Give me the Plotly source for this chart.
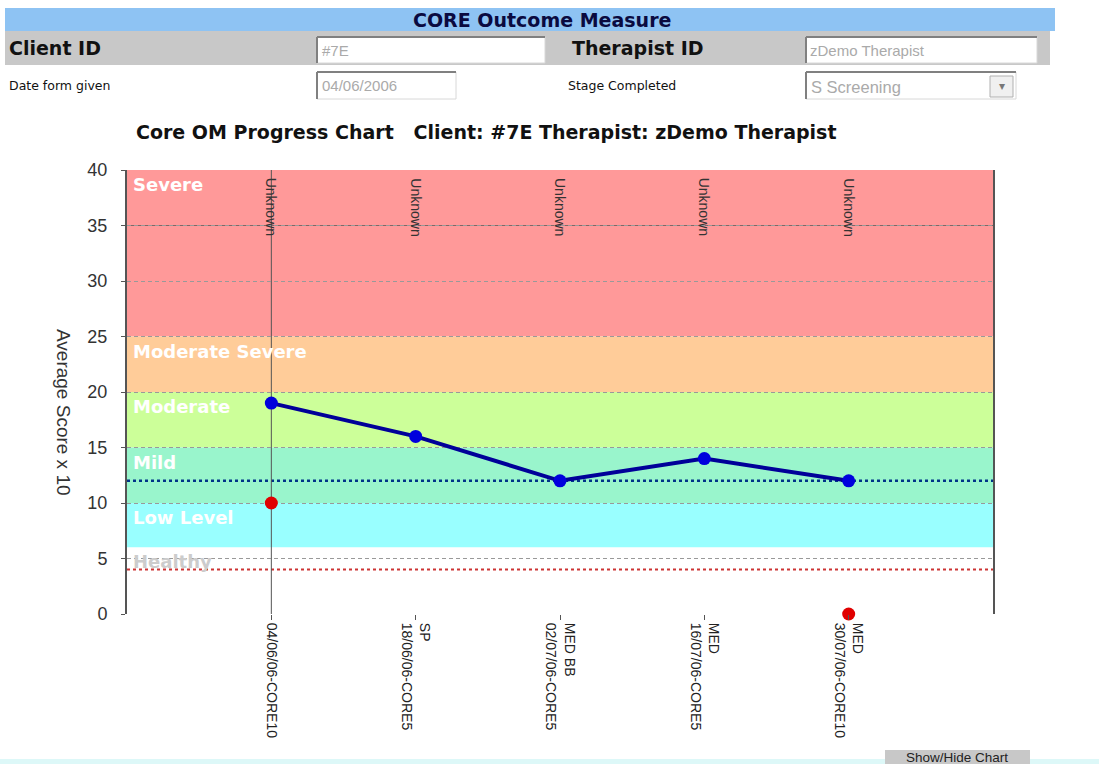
import plotly.graph_objects as go

# ---------------- data ----------------
dates = ["04/06/06-CORE10", "18/06/06-CORE5", "02/07/06-CORE5", "16/07/06-CORE5", "30/07/06-CORE10"]
stages = ["", "SP", "MED BB", "MED", "MED"]
session_notes = ["Unknown", "Unknown", "Unknown", "Unknown", "Unknown"]
scores = [19, 16, 12, 14, 12]
red_idx = [0, 4]
red_scores = [10, 0]
blue_ref = 12
red_ref = 4

band_names = ["Severe", "Moderate Severe", "Moderate", "Mild", "Low Level", "Healthy"]
band_low = [25, 20, 15, 10, 6, 0]
band_high = [40, 25, 20, 15, 10, 6]
band_colors = ["#FF9999", "#FFCC99", "#CCFF99", "#99F5CC", "#99FFFF", "#FFFFFF"]
band_text_colors = ["white", "white", "white", "white", "white", "#CCCCCC"]

y_ticks = [0, 5, 10, 15, 20, 25, 30, 35, 40]
solid_grid = 35

title_text = "Core OM Progress Chart   Client: #7E Therapist: zDemo Therapist"
y_title = "Average Score x 10"

# form fields
form_title = "CORE Outcome Measure"
client_label, client_value = "Client ID", "#7E"
ther_label, ther_value = "Therapist ID", "zDemo Therapist"
date_label, date_value = "Date form given", "04/06/2006"
stage_label, stage_value = "Stage Completed", "S Screening"
button_text = "Show/Hide Chart"

# ---------------- layout geometry ----------------
W, H = 1099, 764
L, R, T, B = 127, 993, 170, 614


def px(x):
    return (x - L) / (R - L)


def py(y):
    return (B - y) / (B - T)


ARIAL = "Arial, Liberation Sans, sans-serif"
DEJAVU = "DejaVu Sans, Verdana, sans-serif"

x_idx = list(range(len(dates)))
ticktext = [(s + "<br>" + d) if s else d for s, d in zip(stages, dates)]

fig = go.Figure()

fig.add_trace(go.Scatter(
    x=x_idx, y=scores, mode="lines+markers",
    line=dict(color="#000099", width=4),
    marker=dict(color="#0000DD", size=13),
    showlegend=False, hoverinfo="skip"))

fig.add_trace(go.Scatter(
    x=red_idx, y=red_scores, mode="markers",
    marker=dict(color="#E00000", size=13),
    cliponaxis=False, showlegend=False, hoverinfo="skip"))

shapes = []
annotations = []

# bands
for name, lo, hi, col, tcol in zip(band_names, band_low, band_high, band_colors, band_text_colors):
    shapes.append(dict(type="rect", xref="paper", yref="y", x0=0, x1=1, y0=lo, y1=hi,
                       fillcolor=col, line=dict(width=0), layer="below"))
    annotations.append(dict(text="<b>" + name + "</b>", xref="paper", yref="y", x=0, y=hi,
                            xanchor="left", yanchor="top", xshift=4, yshift=-2, showarrow=False,
                            font=dict(family=DEJAVU, size=18, color=tcol)))

# solid grid line at 35
shapes.append(dict(type="line", xref="paper", yref="y", x0=0, x1=1, y0=solid_grid, y1=solid_grid,
                   line=dict(color="#806666", width=1), layer="between"))
# reference dotted lines
shapes.append(dict(type="line", xref="paper", yref="y", x0=0, x1=1, y0=blue_ref, y1=blue_ref,
                   line=dict(color="#003388", width=2.5, dash="dot"), layer="between"))
shapes.append(dict(type="line", xref="paper", yref="y", x0=0, x1=1, y0=red_ref, y1=red_ref,
                   line=dict(color="#CC3333", width=2, dash="dot"), layer="between"))
# vertical line at first session
shapes.append(dict(type="line", xref="x", yref="paper", x0=x_idx[0], x1=x_idx[0], y0=0, y1=1,
                   line=dict(color="#555555", width=1), layer="between"))

# Unknown labels
for i, note in zip(x_idx, session_notes):
    annotations.append(dict(text=note, x=i, y=40, xref="x", yref="y", textangle=90,
                            xanchor="center", yanchor="top", yshift=-6, showarrow=False,
                            font=dict(family=ARIAL, size=14, color="#333333")))

# chart title & y title
annotations.append(dict(text="<b>" + title_text + "</b>", xref="paper", yref="paper",
                        x=px(134), y=py(132), xanchor="left", yanchor="middle", showarrow=False,
                        font=dict(family=DEJAVU, size=19, color="#111111")))
annotations.append(dict(text=y_title, xref="paper", yref="paper", x=px(64), y=py(412),
                        xanchor="center", yanchor="middle", textangle=90, showarrow=False,
                        font=dict(family=ARIAL, size=19, color="#333333")))

# ---------------- form header ----------------
def rect(x0, y0, x1, y1, fill, line_col=None, lw=0):
    shapes.append(dict(type="rect", xref="paper", yref="paper", x0=px(x0), x1=px(x1),
                       y0=py(y1), y1=py(y0), fillcolor=fill,
                       line=dict(color=line_col or fill, width=lw), layer="above"))


def text(t, x, y, size, color="#111111", bold=False, anchor="left", family=DEJAVU):
    annotations.append(dict(text=("<b>" + t + "</b>") if bold else t, xref="paper", yref="paper",
                            x=px(x), y=py(y), xanchor=anchor, yanchor="middle", showarrow=False,
                            font=dict(family=family, size=size, color=color)))


def inputbox(x0, y0, x1, y1):
    rect(x0, y0, x1, y1, "white", "#D8D8D8", 1)
    shapes.append(dict(type="line", xref="paper", yref="paper", x0=px(x0), x1=px(x1), y0=py(y0), y1=py(y0),
                       line=dict(color="#808080", width=2), layer="above"))
    shapes.append(dict(type="line", xref="paper", yref="paper", x0=px(x0), x1=px(x0), y0=py(y0), y1=py(y1),
                       line=dict(color="#808080", width=2), layer="above"))


rect(5, 8, 1055, 31, "#8EC3F3")
rect(5, 31, 1050, 65, "#C8C8C8")
text(form_title, 542, 20, 19, color="#0A0A40", bold=True, anchor="center")
text(client_label, 7, 48, 19, bold=True)
text(ther_label, 570, 48, 19, bold=True)
inputbox(317, 37, 545, 63)
inputbox(806, 37, 1037, 63)
text(client_value, 320, 50, 15, color="#AAAAAA", family=ARIAL)
text(ther_value, 808, 50, 15, color="#AAAAAA", family=ARIAL)

text(date_label, 7, 86, 12.5)
text(stage_label, 566, 86, 12.5)
inputbox(317, 72, 456, 99)
inputbox(806, 72, 1016, 99)
text(date_value, 320, 86, 15, color="#AAAAAA", family=ARIAL)
text(stage_value, 809, 87, 16.5, color="#AAAAAA", family=ARIAL)
rect(990, 76, 1013, 97, "#F0F0F0", "#B0B0B0", 1)
text("\u25BE", 1001.5, 86, 12, color="#777777", anchor="center")

# bottom strip & button
rect(0, 759, 1099, 764, "#DDF8F8")
rect(885, 750, 1030, 770, "#C8C8C8")
text(button_text, 957, 757, 13.5, color="#222222", anchor="center", family=ARIAL)

fig.update_layout(
    width=W, height=H,
    margin=dict(l=L, r=W - R, t=T, b=H - B),
    paper_bgcolor="white", plot_bgcolor="white",
    shapes=shapes, annotations=annotations,
    showlegend=False,
    xaxis=dict(range=[-1, 5], tickvals=x_idx, ticktext=ticktext, tickangle=90,
               showgrid=False, zeroline=False, showline=False,
               ticks="outside", ticklen=5, tickcolor="#555555",
               tickfont=dict(family=ARIAL, size=14, color="#222222")),
    yaxis=dict(range=[0, 40], tickvals=y_ticks, showgrid=True, gridcolor="#999999",
               griddash="4px,3px", gridwidth=1, zeroline=False,
               showline=True, mirror=True, linecolor="#555555", linewidth=2,
               ticks="outside", ticklen=4, tickcolor="#555555", ticklabelstandoff=10,
               tickfont=dict(family=ARIAL, size=18, color="#333333")),
)

fig.write_html("out.html", config={"displayModeBar": False},
               post_script="document.body.style.margin='0';")
